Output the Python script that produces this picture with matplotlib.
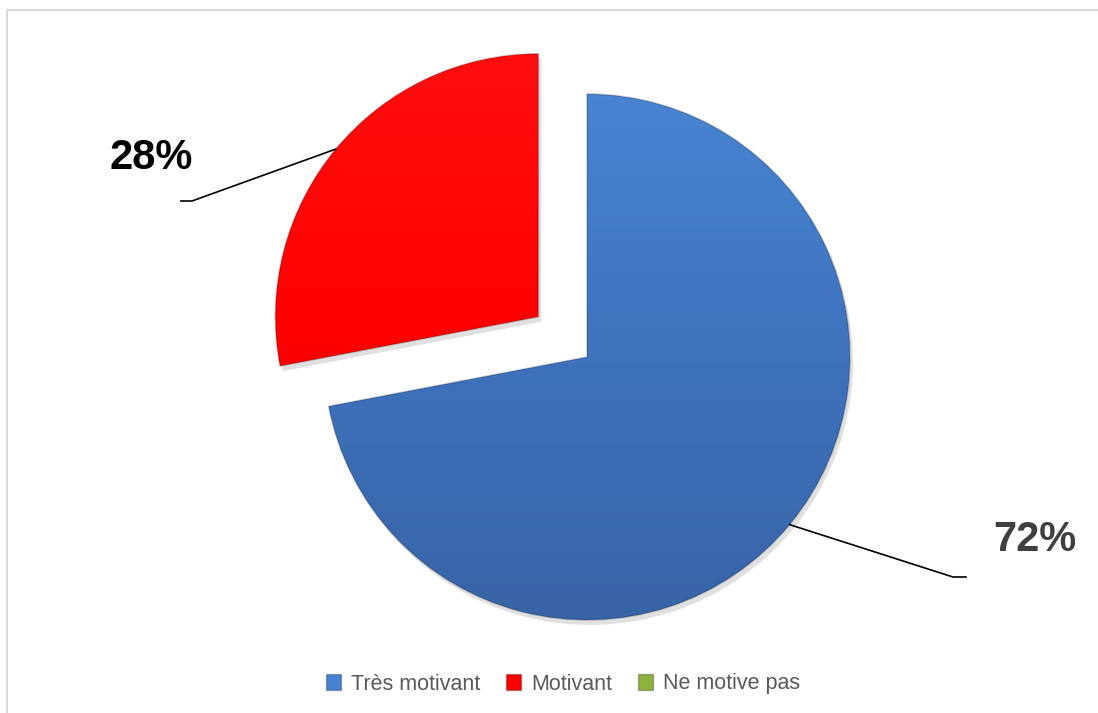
import numpy as np
import matplotlib
matplotlib.use("Agg")
import matplotlib.pyplot as plt
from matplotlib.patches import Patch, Rectangle
from matplotlib.colors import LinearSegmentedColormap

# data
categories = ["Très motivant", "Motivant", "Ne motive pas"]
values = [72, 28, 0]
pct_labels = ["72%", "28%"]
colors = ["#4683d2", "#fe0000", "#8db33e"]

W, H = 1098, 713
fig = plt.figure(figsize=(W / 100, H / 100), dpi=100)
ax = fig.add_axes([0, 0, 1, 1])

cx, cy, r = 587, H - 357, 263
# pie() offsets by explode in data units, not radius units
explode = [0, 0.24 * r, 0]

# soft shadow under the slices
shadow, _ = ax.pie(values, startangle=90, counterclock=False, explode=explode,
                   center=(cx + 3, cy - 5), radius=r, colors=["#000000"] * 3,
                   wedgeprops=dict(linewidth=0, alpha=0.12))

wedges, _ = ax.pie(values, startangle=90, counterclock=False, explode=explode,
                   center=(cx, cy), radius=r, colors=colors,
                   wedgeprops=dict(linewidth=0))

# vertical gradient inside each slice
grads = {0: ["#3763a5", "#3f74bf", "#4b8ad9"], 1: ["#e00000", "#ff0000", "#ff1010"]}
for i, cols in grads.items():
    cmap = LinearSegmentedColormap.from_list("g%d" % i, cols)
    g = np.linspace(0, 1, 256).reshape(-1, 1)
    im = ax.imshow(g, extent=(cx - r - 80, cx + r + 20, cy - r - 20, cy + r + 80),
                   origin="lower", cmap=cmap, aspect="auto", zorder=2)
    im.set_clip_path(wedges[i])
    wedges[i].set_edgecolor("#00000030")
    wedges[i].set_linewidth(1.2)
    wedges[i].set_zorder(3)
    wedges[i].set_facecolor("none")

# percentage labels with leader lines from slice mid-angle
label_pos = {0: (1035, H - 540), 1: (151, H - 158)}
elbow = {0: [(953, H - 577), (966, H - 577)], 1: [(192, H - 201), (181, H - 201)]}
label_col = {0: "#404040", 1: "#000000"}
for i in (0, 1):
    w = wedges[i]
    mid = np.deg2rad((w.theta1 + w.theta2) / 2)
    x0 = w.center[0] + r * np.cos(mid)
    y0 = w.center[1] + r * np.sin(mid)
    xs = [x0] + [p[0] for p in elbow[i]]
    ys = [y0] + [p[1] for p in elbow[i]]
    ax.plot(xs, ys, color="black", lw=1.2, zorder=4)
    ax.text(label_pos[i][0], label_pos[i][1], pct_labels[i], ha="center", va="center",
            fontsize=30, fontweight="bold", color=label_col[i],
            family="Liberation Sans")

ax.set_xlim(0, W)
ax.set_ylim(0, H)
ax.set_aspect("equal")
ax.axis("off")

# chart border
fig.patches.append(Rectangle((7 / W, -0.01), 1.1, (H - 10) / H + 0.01,
                             transform=fig.transFigure, fill=False,
                             edgecolor="#d9d9d9", lw=1.5))

handles = [Patch(facecolor=c, edgecolor="#00000040") for c in colors]
fig.legend(handles, categories, loc="center", bbox_to_anchor=(563 / W, 1 - 684 / H),
           ncol=3, frameon=False, handlelength=0.7, handleheight=0.7,
           handletextpad=0.45, columnspacing=1.2,
           prop={"family": "Liberation Sans", "size": 15.5}, labelcolor="#595959")

fig.savefig("out.png", dpi=100)
